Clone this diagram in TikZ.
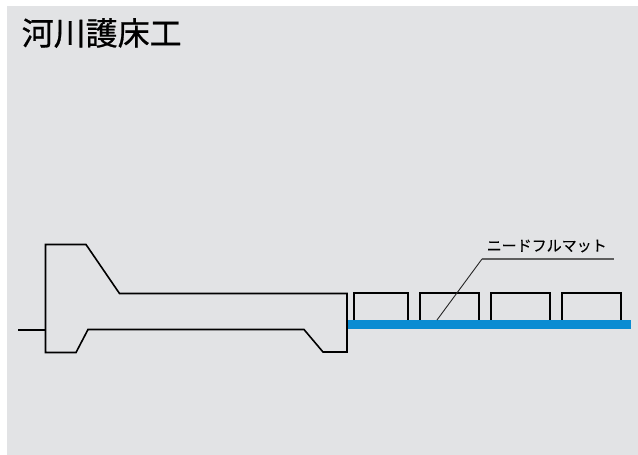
\documentclass[tikz,border=0pt]{standalone}
\usepackage{fontspec}
\newfontfamily\cjk[FakeBold=0.15]{Noto Sans CJK JP}
\newfontfamily\cjktitle[FakeBold=0.7]{Noto Sans CJK JP}
\definecolor{panel}{HTML}{E2E3E5}
\definecolor{mat}{HTML}{0A8CD2}
\definecolor{leader}{HTML}{5E5E5E}
\tikzset{
  outline/.style={draw=black,line width=1.6pt,line join=miter},
  titletext/.style={font=\cjktitle\fontsize{32}{32}\selectfont,inner sep=0pt,anchor=west},
  labeltext/.style={font=\cjk\fontsize{15}{15}\selectfont,inner sep=0pt,anchor=west},
  blockbox/.style={outline},
  leaderline/.style={draw=leader,line width=1.2pt},
  leaderdiag/.style={draw=black!85,line width=0.9pt},
}
\begin{document}
\begin{tikzpicture}[x=1pt,y=-1pt]
\useasboundingbox (0,0) rectangle (638,455);
\fill[white] (0,0) rectangle (638,455);
\fill[panel] (7,6) rectangle (638,455);
\node[titletext] (title) at (21.5,33) {河川護床工};
\draw[outline] (18,330) -- (45,330);
\draw[outline] (45.5,244.5) -- (86,244.5) -- (119.5,293.5) -- (347,293.5) -- (347,352) -- (323,352) -- (304,329.5) -- (88,329.5) -- (76,352.5) -- (45.5,352.5) -- cycle;
\draw[blockbox] (354,320) -- (354,293) -- (408,293) -- (408,320);
\draw[blockbox] (420,320) -- (420,293) -- (479,293) -- (479,320);
\draw[blockbox] (491,320) -- (491,293) -- (550,293) -- (550,320);
\draw[blockbox] (562,320) -- (562,293) -- (621,293) -- (621,320);
\fill[mat] (347.6,320) rectangle (631,329);
\node[labeltext] (label) at (486.5,246) {ニードフルマット};
\coordinate (foot) at (437,320);
\coordinate (bend) at (482,259);
\coordinate (tail) at (614,259);
\draw[leaderdiag] (foot) -- (bend);
\draw[leaderline] (bend) -- (tail);
\end{tikzpicture}
\end{document}
